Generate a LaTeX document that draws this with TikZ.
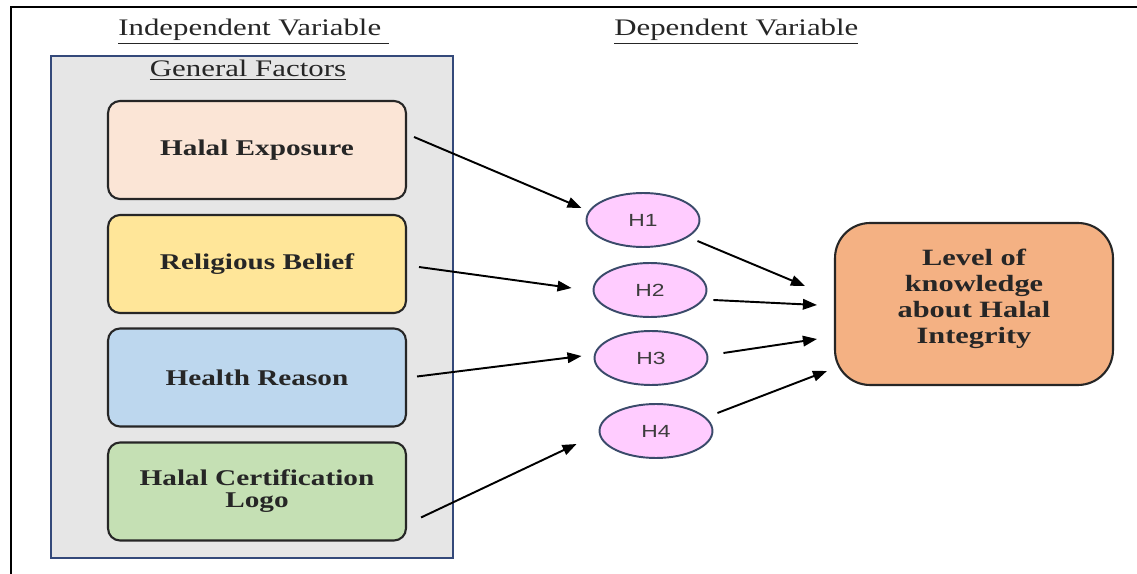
\documentclass[tikz,border=0pt]{standalone}
\usepackage{fontspec}
\setmainfont{Liberation Serif}[FakeStretch=1.3]
\newfontfamily\hsans{Liberation Sans}[FakeStretch=1.3]
\usetikzlibrary{arrows.meta,calc,shapes.geometric}

\definecolor{inkc}{HTML}{262626}
\definecolor{panelfill}{HTML}{E6E6E6}
\definecolor{panelline}{HTML}{34497A}
\definecolor{peach}{HTML}{FBE5D6}
\definecolor{sand}{HTML}{FFE699}
\definecolor{sky}{HTML}{BDD7EE}
\definecolor{sage}{HTML}{C5E0B4}
\definecolor{apricot}{HTML}{F4B183}
\definecolor{lilac}{HTML}{FFCCFF}
\definecolor{ovalline}{HTML}{3A4A6A}

\tikzset{
  header/.style={text=inkc, font=\fontsize{13.5}{16}\selectfont, inner sep=0pt},
  factor/.style={draw=inkc, line width=1.2pt, rounded corners=0.24cm,
    minimum width=5.96cm, minimum height=1.96cm, align=center, text=inkc,
    font=\fontsize{12.8}{12.5}\selectfont\bfseries},
  hyp/.style={ellipse, draw=ovalline, line width=1.1pt, fill=lilac, inner sep=0pt,
    minimum width=2.26cm, minimum height=1.08cm, text=inkc!90,
    font=\hsans\fontsize{10}{11}\selectfont},
  outcome/.style={draw=inkc, line width=1.2pt, rounded corners=0.7cm, fill=apricot,
    minimum width=5.56cm, minimum height=3.24cm, align=center, text=inkc,
    font=\fontsize{13.3}{14.8}\selectfont\bfseries},
  arr/.style={-{Triangle[length=8pt,width=6pt]}, line width=1.1pt, black},
}

\begin{document}
\begin{tikzpicture}[x=0.02cm, y=-0.02cm]
  \useasboundingbox[fill=white] (0,0) rectangle (1137,574);

  % outer frame (left and top edges)
  \draw[line width=1.1pt, black] (11,574) -- (11,7) -- (1137,7);

  % column headings
  \node[header, anchor=base west] (indep) at (118,36) {\underline{Independent Variable~}};
  \node[header, anchor=base west] (dep) at (614,36) {\underline{Dependent Variable}};

  % panel of general factors
  \node[draw=panelline, fill=panelfill, line width=1.2pt, minimum width=8.04cm,
        minimum height=10.04cm, inner sep=0pt] (panel) at (252,307) {};
  \node[header, anchor=base] (gf) at (248,77) {\underline{General Factors}};

  % independent factors
  \node[factor, fill=peach] (hexp) at (257,150)   {Halal Exposure};
  \node[factor, fill=sand]  (relb) at (257,264)   {Religious Belief};
  \node[factor, fill=sky]   (hrea) at (257,377.5) {Health Reason};
  \node[factor, fill=sage]  (hcert) at (257,491.5) {Halal Certification\\Logo};

  % hypotheses
  \node[hyp] (h1) at (643,220) {H1};
  \node[hyp] (h2) at (650,290) {H2};
  \node[hyp] (h3) at (651,358) {H3};
  \node[hyp] (h4) at (656,431) {H4};

  % dependent variable (text sits a little above the box centre)
  \node[outcome] (know) at (974,304) {Level of\\knowledge\\about Halal\\Integrity\\[-0.2cm]};

  % factors to hypotheses
  \draw[arr] ($(hexp.east)+(7,-13)$)  -- ($(h1.west)+(-4,-12)$);
  \draw[arr] ($(relb.east)+(12,3)$)   -- ($(h2.west)+(-21,-2)$);
  \draw[arr] ($(hrea.east)+(10,-1)$)  -- ($(h3.west)+(-12,-2)$);
  \draw[arr] ($(hcert.east)+(14,26)$) -- ($(h4.west)+(-22,13)$);

  % hypotheses to dependent variable
  \draw[arr] ($(h1.east)+(-3,21)$)  -- ($(know.west)+(-29,-18)$);
  \draw[arr] ($(h2.east)+(6,10)$)   -- ($(know.west)+(-17,1)$);
  \draw[arr] ($(h3.east)+(15,-5)$)  -- ($(know.west)+(-17,35)$);
  \draw[arr] ($(h4.east)+(4,-18)$)  -- ($(know.west)+(-7,67)$);
\end{tikzpicture}
\end{document}
